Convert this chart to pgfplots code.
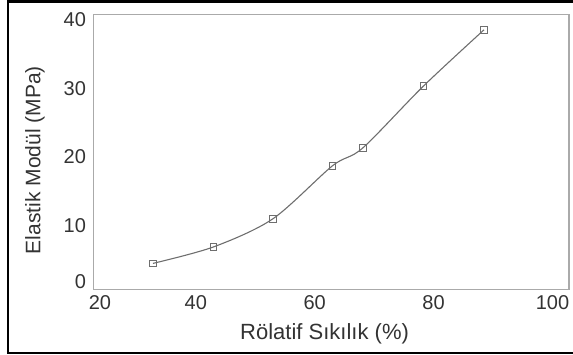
\documentclass[border=0pt]{standalone}
\usepackage{fontspec}
\setmainfont{Liberation Sans}
\usepackage{pgfplots}
\pgfplotsset{compat=1.18}
\definecolor{axisgray}{RGB}{170,170,170}
\definecolor{linegray}{RGB}{110,110,110}
\begin{document}
\begin{tikzpicture}
\begin{axis}[
  at={(93.5pt,65.5pt)}, anchor=south west,
  scale only axis, width=475.5pt, height=274.8pt,
  xmin=20, xmax=100, ymin=0, ymax=40,
  xtick={20,40,60,80,100}, ytick={0,10,20,30,40},
  major tick length=0pt,
  axis line style={axisgray, line width=1.5pt},
  /pgf/number format/assume math mode=true,
  tick label style={font=\fontsize{20}{24}\selectfont, text=black!80},
  xticklabel={\ifnum\ticknum=0 \hspace*{46pt}\fi\pgfmathprintnumber{\tick}},
  yticklabel={\ifnum\ticknum=0 \raisebox{12.5pt}[\height][\depth]{\pgfmathprintnumber{\tick}}\else\pgfmathprintnumber{\tick}\fi},
  xticklabel style={yshift=-3pt, xshift=-16.5pt},
  yticklabel style={xshift=-4pt, yshift=-5pt},
  label style={text=black!80},
  xlabel={Rölatif Sıkılık (\%)},
  ylabel={Elastik Modül (MPa)},
  xlabel style={font=\fontsize{22}{26}\selectfont, at={(axis description cs:0.486,-0.16)}, anchor=center},
  ylabel style={font=\fontsize{21}{25}\selectfont, at={(axis description cs:-0.123,0.471)}, anchor=center},
]
\addplot[linegray, line width=1.1pt, smooth, tension=0.5, mark=square, mark size=3.3pt,
  mark options={linegray, line width=1pt, fill=black!15}]
  coordinates {(30,3.8) (40.2,6.2) (50.2,10.3) (60.2,18.0) (65.3,20.6) (75.5,29.6) (85.7,37.8)};
\end{axis}
\draw[line width=2.5pt] (8pt,1.8pt) rectangle (600pt,353.3pt);
\pgfresetboundingbox
\path (0pt,0pt) rectangle (573pt,355pt);
\end{tikzpicture}
\end{document}
